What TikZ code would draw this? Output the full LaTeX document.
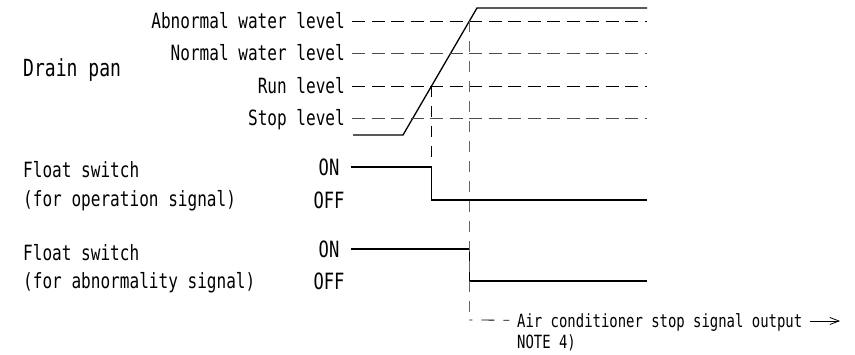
\documentclass[tikz,border=0pt]{standalone}
\usepackage{fontspec}
\usepackage{tikz}
\usetikzlibrary{arrows.meta, positioning}
\newfontfamily\plotfont{DejaVu Sans Mono}[FakeStretch=0.765]
\newcommand*{\lblfont}{\plotfont\fontsize{21}{24}\selectfont}
\newcommand*{\panfont}{\plotfont\fontsize{23.6}{27}\selectfont}
\newcommand*{\onfont}{\plotfont\fontsize{22.4}{26}\selectfont}
\newcommand*{\outfont}{\plotfont\fontsize{18.2}{21}\selectfont}
\tikzstyle{txt} = [font=\lblfont, inner sep=2pt, text height=15.3pt, text depth=0pt]
\tikzstyle{lvltxt} = [txt, anchor=east, inner xsep=7pt]
\tikzstyle{state} = [txt, font=\onfont, inner xsep=11pt, text height=16.3pt]
\tikzstyle{outtxt} = [txt, font=\outfont, text height=13.3pt]
\tikzstyle{level} = [draw, dash pattern=on 13pt off 6.5pt, line width=0.8pt]
\tikzstyle{guide} = [draw, dash pattern=on 11pt off 9pt, line width=0.9pt]
\tikzstyle{signal} = [draw, line width=1.3pt]
\tikzstyle{arrow} = [->, >={Straight Barb[length=9pt,width=7pt]}, line width=0.8pt]

\begin{document}
\begin{tikzpicture}[x=1pt, y=-1pt]
  \useasboundingbox (0,0) rectangle (855,355);

  % Nodes
  \node (pan) [txt, font=\panfont, text height=17.2pt, anchor=west] at (21,68) {Drain pan};
  \node (abn) [lvltxt] at (352,21) {Abnormal water level};
  \node (nrm) [lvltxt] at (352,53) {Normal water level};
  \node (run) [lvltxt] at (352,86) {Run level};
  \node (stp) [lvltxt] at (352,118) {Stop level};

  \node (fs1) [txt, anchor=west] at (21,170) {Float switch};
  \node (fs1sub) [txt, below=9pt of fs1.south west, anchor=north west] {(for operation signal)};
  \node (fs2) [txt, anchor=west] at (21,253) {Float switch};
  \node (fs2sub) [txt, below=8pt of fs2.south west, anchor=north west] {(for abnormality signal)};

  \node (on1) [state] at (329,167) {ON};
  \node (off1) [state, below=12.5pt of on1] {OFF};
  \node (on2) [state] at (329,249) {ON};
  \node (off2) [state, below=11.5pt of on2] {OFF};

  \node (aco) [outtxt, anchor=west] at (515,321) {Air conditioner stop signal output};
  \node (note) [outtxt, below=3pt of aco.south west, anchor=north west] {NOTE 4)};

  % Water level in the pan
  \coordinate (w0) at (353,135);
  \coordinate (w1) at (403,135);
  \coordinate (w2) at (477,8);
  \coordinate (w3) at (647,8);
  \draw[signal] (w0) -- (w1) -- (w2) -- (w3);

  % Level lines
  \coordinate (abn-end) at (647,21);
  \coordinate (nrm-end) at (647,53);
  \coordinate (run-end) at (647,86);
  \coordinate (stp-end) at (647,118);
  \draw[level] (abn) -- (abn-end);
  \draw[level, black!70] (nrm) -- (nrm-end);
  \draw[level] (run) -- (run-end);
  \draw[level, black!70] (stp) -- (stp-end);

  % Float switches
  \coordinate (x-run) at (431.6,86);
  \coordinate (x-abn) at (469.4,21);
  \coordinate (f1a) at (431.6,167);
  \coordinate (f1b) at (431.6,200);
  \coordinate (f1c) at (647,200);
  \coordinate (f2a) at (469.4,249);
  \coordinate (f2b) at (469.4,281);
  \coordinate (f2c) at (647,281);
  \draw[signal] (on1) -- (f1a) -- (f1b) -- (f1c);
  \draw[signal] (on2) -- (f2a) -- (f2b) -- (f2c);

  % Guides and output
  \coordinate (g-corner) at (469.4,320);
  \coordinate (aco-end) at (840,321);
  \draw[guide] (x-run) -- (f1a);
  \draw[guide, black!60] (x-abn) -- (g-corner);
  \draw[dash pattern=on 3pt off 9pt on 13pt off 9pt on 6pt off 30pt, line width=0.8pt] (g-corner) -- (aco);
  \draw[arrow, shorten <=6pt] (aco) -- (aco-end);

\end{tikzpicture}
\end{document}
